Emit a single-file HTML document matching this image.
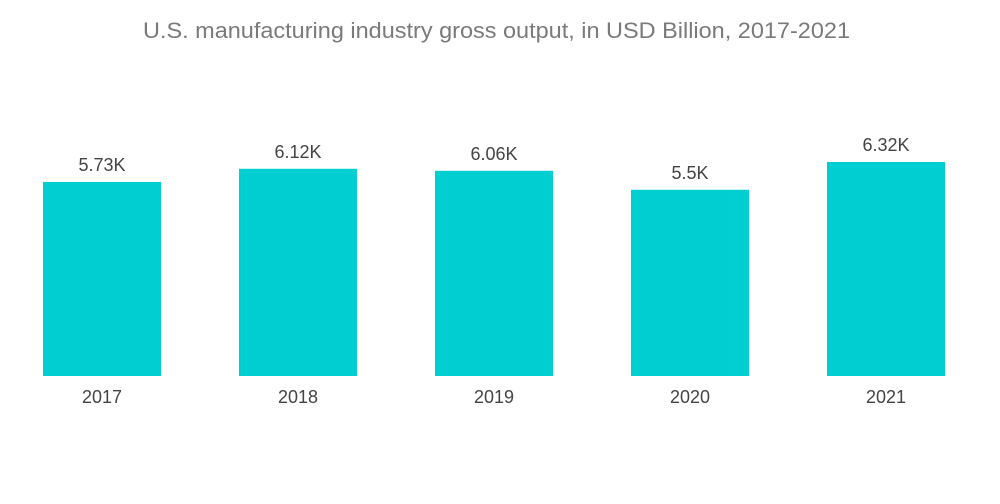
<!DOCTYPE html>
<html><head><meta charset="utf-8"><style>
html,body{margin:0;padding:0;background:#fff;width:1000px;height:504px;overflow:hidden}
svg text{font-family:"Liberation Sans",sans-serif}
</style></head><body>
<svg id="chart" width="1000" height="504" viewBox="0 0 1000 504">
<text x="496.5" y="38" text-anchor="middle" font-size="22" textLength="707" lengthAdjust="spacingAndGlyphs" fill="#7a7a7a">U.S. manufacturing industry gross output, in USD Billion, 2017-2021</text>
<g id="bars"></g>
</svg>
<script>
const categories = ["2017","2018","2019","2020","2021"];
const values = [5.73, 6.12, 6.06, 5.5, 6.32];
const valueLabels = ["5.73K","6.12K","6.06K","5.5K","6.32K"];
const baseY = 376, pxPerUnit = 33.86, x0 = 43, step = 196, bw = 118;
function yScale(v){return baseY - v*pxPerUnit;}
function xScale(i){return x0 + i*step;}
const g = document.getElementById('bars');
const NS = "http://www.w3.org/2000/svg";
categories.forEach((c,i)=>{
  const r = document.createElementNS(NS,'rect');
  
  
  r.setAttribute('x', xScale(i)); r.setAttribute('y', yScale(values[i]));
  r.setAttribute('width', bw); r.setAttribute('height', baseY - yScale(values[i]));
  r.setAttribute('fill', '#00ced1');
  g.appendChild(r);
  const t = document.createElementNS(NS,'text');
  
  
  t.setAttribute('x', xScale(i)+bw/2); t.setAttribute('y', yScale(values[i]) - 11);
  t.setAttribute('text-anchor','middle'); t.setAttribute('font-size','18'); t.setAttribute('fill','#444');
  t.textContent = valueLabels[i];
  g.appendChild(t);
  const xl = document.createElementNS(NS,'text');
  
  
  xl.setAttribute('x', xScale(i)+bw/2); xl.setAttribute('y', 403);
  xl.setAttribute('text-anchor','middle'); xl.setAttribute('font-size','18'); xl.setAttribute('fill','#444');
  xl.textContent = c;
  g.appendChild(xl);
});
</script>
</body></html>
